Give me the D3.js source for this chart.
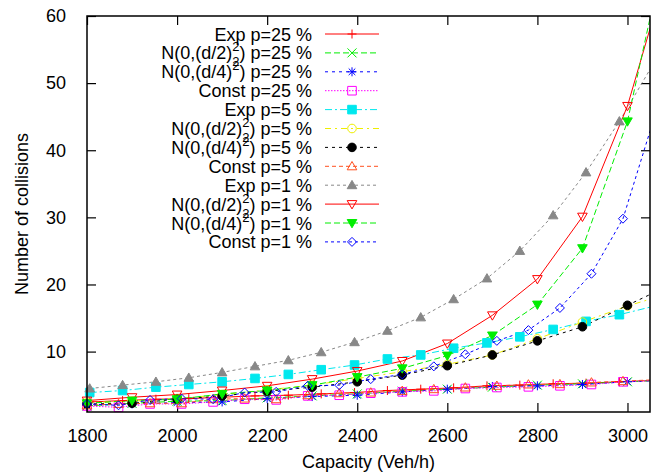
<!DOCTYPE html>
<html>
<head>
  <meta charset="utf-8">
  <title>Collisions vs capacity</title>
  <script src="https://d3js.org/d3.v7.min.js"></script>
  <style>
    body { margin: 0; background: #fff; }
    text { font-family: "Liberation Sans", Arial, sans-serif; fill: #000; }
  </style>
</head>
<body>
<div id="output"></div>

<script type="text/javascript">

  // x positions of the three kinds of runs
  var capExp   = [1806, 1879, 1953, 2026, 2100, 2173, 2247, 2320, 2394, 2467, 2541, 2614, 2688, 2761, 2835, 2908, 2982, 3055];
  var capN     = [1800, 1900, 2000, 2100, 2200, 2300, 2400, 2500, 2600, 2700, 2800, 2900, 3000, 3100];
  var capConst = [1800, 1870, 1940, 2010, 2080, 2150, 2220, 2290, 2360, 2430, 2500, 2570, 2640, 2710, 2780, 2850, 2920, 2990, 3060];

  var expP25      = [2.5, 2.7, 2.9, 3.0, 3.2, 3.4, 3.5, 3.7, 3.9, 4.2, 4.4, 4.6, 4.9, 5.0, 5.2, 5.3, 5.5, 5.7];
  var nHalfP25    = [1.9, 2.3, 2.6, 2.7, 3.1, 3.4, 3.7, 4.1, 4.4, 4.7, 5.0, 5.2, 5.5, 5.8];
  var nQuarterP25 = [2.0, 2.2, 2.4, 2.5, 3.0, 3.3, 3.5, 4.0, 4.4, 4.8, 4.9, 5.1, 5.5, 5.8];
  var constP25    = [1.9, 1.7, 2.2, 2.2, 2.5, 2.9, 2.8, 3.4, 3.5, 3.8, 4.0, 4.15, 4.5, 4.65, 4.75, 4.9, 5.1, 5.5, 5.7];
  var expP5       = [3.9, 4.2, 4.7, 5.1, 5.5, 6.0, 6.6, 7.3, 8.0, 8.9, 9.5, 10.5, 11.3, 12.2, 13.3, 14.5, 15.5, 16.7];
  var nHalfP5     = [2.4, 2.6, 3.0, 3.6, 4.3, 5.0, 6.0, 7.0, 8.1, 9.5, 11.9, 14.4, 16.8, 18.8];
  var nQuarterP5  = [2.2, 2.3, 2.9, 3.4, 4.1, 4.7, 5.5, 6.5, 7.9, 9.5, 11.6, 13.7, 16.9, 20.1];
  var constP5     = [2.0, 2.2, 2.3, 2.3, 2.9, 3.0, 2.9, 3.5, 3.8, 3.9, 4.15, 4.4, 4.65, 4.9, 5.1, 5.15, 5.4, 5.6, 5.8];
  var expP1       = [4.5, 5.0, 5.5, 6.1, 6.9, 7.8, 8.7, 9.9, 11.4, 13.1, 15.1, 17.8, 20.9, 25.0, 30.3, 36.7, 44.3, 52.6];
  var nHalfP1     = [2.7, 3.2, 3.6, 4.2, 4.9, 5.9, 7.1, 8.6, 11.2, 15.4, 20.8, 30.1, 46.6, 69.6];
  var nQuarterP1  = [2.3, 2.7, 2.9, 3.7, 4.2, 5.0, 6.2, 7.5, 9.4, 12.4, 17.0, 25.4, 44.3, 75];
  var constP1     = [2.2, 2.0, 2.8, 3.0, 2.9, 3.9, 4.0, 4.9, 5.0, 5.9, 6.6, 7.8, 9.6, 11.6, 13.2, 16.5, 21.6, 29.8, 45];

  var xTicks = [1800, 2000, 2200, 2400, 2600, 2800, 3000];
  var yTicks = [10, 20, 30, 40, 50, 60];

  // label parts: [before, sup/sub kind, after]
  var series = [
    {lab: ["Exp p=25 %"],                 xs: capExp,   ys: expP25,      color: "#ff0000", dash: null,      mark: "plus"},
    {lab: ["N(0,(d/2)", "both", ") p=25 %"], xs: capN,  ys: nHalfP25,    color: "#00ee00", dash: "6,3",     mark: "cross"},
    {lab: ["N(0,(d/4)", "sup", ") p=25 %"],  xs: capN,  ys: nQuarterP25, color: "#0000ff", dash: "3,4",     mark: "star"},
    {lab: ["Const p=25 %"],               xs: capConst, ys: constP25,    color: "#ff00ff", dash: "1.5,1.5", mark: "square"},
    {lab: ["Exp p=5 %"],                  xs: capExp,   ys: expP5,       color: "#00e8ee", dash: "7,3,2,3", mark: "fsquare"},
    {lab: ["N(0,(d/2)", "both", ") p=5 %"],  xs: capN,  ys: nHalfP5,     color: "#eeee00", dash: "6,4,2,4", mark: "circle"},
    {lab: ["N(0,(d/4)", "sup", ") p=5 %"],   xs: capN,  ys: nQuarterP5,  color: "#000000", dash: "3,4",     mark: "fcircle"},
    {lab: ["Const p=5 %"],                xs: capConst, ys: constP5,     color: "#ff5020", dash: "4,3",     mark: "triangle"},
    {lab: ["Exp p=1 %"],                  xs: capExp,   ys: expP1,       color: "#888888", dash: "3,3",     mark: "ftriangle"},
    {lab: ["N(0,(d/2)", "both", ") p=1 %"],  xs: capN,  ys: nHalfP1,     color: "#ff0000", dash: null,      mark: "itriangle"},
    {lab: ["N(0,(d/4)", "sup", ") p=1 %"],   xs: capN,  ys: nQuarterP1,  color: "#00ee00", dash: "6,3",     mark: "fitriangle"},
    {lab: ["Const p=1 %"],                xs: capConst, ys: constP1,     color: "#0000ff", dash: "3,3",     mark: "diamond"}
  ];

  var w = 651, h = 476;
  var margin = {top: 16, right: 1, bottom: 64, left: 87};
  var wChart = w - margin.left - margin.right,
      hChart = h - margin.top - margin.bottom;

  var x = d3.scaleLinear().domain([1800, 3050]).range([0, wChart]);
  var y = d3.scaleLinear().domain([1, 60]).range([hChart, 0]);

  function markPath(type) {
    var s = 4.5;
    switch (type) {
      case "plus": return "M" + (-s) + ",0H" + s + "M0," + (-s) + "V" + s;
      case "cross": return "M" + (-s) + "," + (-s) + "L" + s + "," + s + "M" + (-s) + "," + s + "L" + s + "," + (-s);
      case "star": return "M" + (-s) + ",0H" + s + "M0," + (-s) + "V" + s +
                          "M-3.3,-3.3L3.3,3.3M-3.3,3.3L3.3,-3.3";
      case "square": case "fsquare": return "M-4.3,-4.3H4.3V4.3H-4.3Z";
      case "circle": case "fcircle": return "M4.3,0A4.3,4.3 0 1,1 -4.3,0A4.3,4.3 0 1,1 4.3,0Z";
      case "triangle": case "ftriangle": return "M0,-4.8L4.8,3.5L-4.8,3.5Z";
      case "itriangle": case "fitriangle": return "M0,4.8L4.8,-3.5L-4.8,-3.5Z";
      case "diamond": return "M0,-4.5L4.5,0L0,4.5L-4.5,0Z";
    }
  }
  function isFilled(type) { return type.charAt(0) === "f"; }

  var svg = d3.select("#output").append("svg")
          .attr("width", w)
          .attr("height", h);

  svg.append("defs").append("clipPath").attr("id", "clip")
          .append("rect").attr("width", wChart).attr("height", hChart);

  var chart = svg.append("g")
          .attr("transform", "translate(" + margin.left + "," + margin.top + ")");

  // axes with inward ticks, mirrored on top and right
  var xAxis = d3.axisBottom(x).tickValues(xTicks).tickSize(-9).tickPadding(17).tickFormat(d3.format("d"));
  var xTop = d3.axisTop(x).tickValues(xTicks).tickSize(-9).tickFormat("");
  var yAxis = d3.axisLeft(y).tickValues(yTicks).tickSize(-9).tickPadding(21);
  var yRight = d3.axisRight(y).tickValues(yTicks).tickSize(-9).tickFormat("");

  function styleAxis(g) {
    g.select(".domain").remove();
    g.selectAll("line").attr("stroke", "#000").attr("stroke-width", 1.2);
    g.selectAll("text").style("font-size", "18px").attr("fill", "#000");
  }
  chart.append("g").attr("transform", "translate(0," + hChart + ")").call(xAxis).call(styleAxis);
  chart.append("g").call(xTop).call(styleAxis);
  chart.append("g").call(yAxis).call(styleAxis);
  chart.append("g").attr("transform", "translate(" + wChart + ",0)").call(yRight).call(styleAxis);

  var line = d3.line().x(function(d){ return x(d[0]); }).y(function(d){ return y(d[1]); });

  var lines = chart.append("g").attr("clip-path", "url(#clip)");
  var marks = chart.append("g");

  series.forEach(function(s) {
    var pts = s.xs.map(function(v, i){ return [v, s.ys[i]]; });
    lines.append("path")
            .attr("d", line(pts))
            .attr("fill", "none")
            .attr("stroke", s.color)
            .attr("stroke-width", 1)
            .attr("stroke-dasharray", s.dash);
    marks.selectAll(null)
            .data(pts.filter(function(d){ return d[0] <= 3050 && d[1] <= 60; }))
            .enter()
            .append("path")
            .attr("transform", function(d){ return "translate(" + x(d[0]) + "," + y(d[1]) + ")"; })
            .attr("d", markPath(s.mark))
            .attr("fill", isFilled(s.mark) ? s.color : "none")
            .attr("stroke", s.color)
            .attr("stroke-width", 1);
  });

  // frame
  chart.append("rect")
          .attr("width", wChart).attr("height", hChart)
          .attr("fill", "none").attr("stroke", "#000").attr("stroke-width", 1.5);

  // key
  var key = svg.append("g");
  series.forEach(function(s, i) {
    var ry = 34 + i * 18.9;
    var t = key.append("text")
            .attr("x", 312).attr("y", ry + 6.5)
            .attr("text-anchor", "end")
            .style("font-size", "18px");
    t.append("tspan").text(s.lab[0]);
    if (s.lab.length > 1) {
      t.append("tspan").attr("dy", -8).style("font-size", "13px").text("2");
      if (s.lab[1] === "both") {
        t.append("tspan").attr("dx", -7.2).attr("dy", 15).style("font-size", "13px").text("2");
        t.append("tspan").attr("dy", -7).text(s.lab[2]);
      } else {
        t.append("tspan").attr("dy", 8).text(s.lab[2]);
      }
    }
    key.append("line")
            .attr("x1", 325).attr("x2", 379).attr("y1", ry).attr("y2", ry)
            .attr("stroke", s.color).attr("stroke-width", 1)
            .attr("stroke-dasharray", s.dash);
    key.append("path")
            .attr("transform", "translate(352," + ry + ")")
            .attr("d", markPath(s.mark))
            .attr("fill", isFilled(s.mark) ? s.color : "none")
            .attr("stroke", s.color)
            .attr("stroke-width", 1);
  });

  // axis titles
  svg.append("text")
          .attr("x", margin.left + wChart / 2).attr("y", 468)
          .attr("text-anchor", "middle")
          .style("font-size", "18px")
          .text("Capacity (Veh/h)");
  svg.append("text")
          .attr("transform", "translate(28," + (margin.top + hChart / 2) + ") rotate(-90)")
          .attr("text-anchor", "middle")
          .style("font-size", "18px")
          .text("Number of collisions");

</script>
</body>
</html>
